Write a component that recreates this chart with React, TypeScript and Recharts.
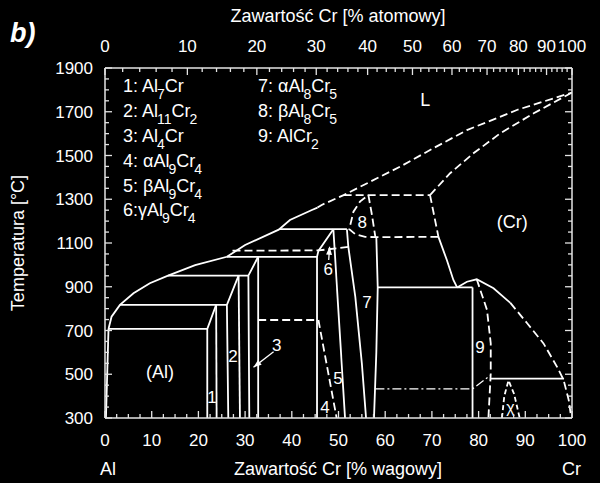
import React from 'react';
import { ComposedChart, Line, XAxis, YAxis, ReferenceDot } from 'recharts';

// every point: [wt.% Cr, temperature in °C]
const alSolvus = [[0.2, 300], [0.75, 707]];
const liquidusSolid = [[0.75, 707], [1.4, 763], [3.2, 817], [6.1, 870], [9.6, 916], [13.5, 951], [19.3, 999], [26.1, 1037], [30.0, 1091], [37.2, 1161], [39.6, 1205], [44.3, 1251], [45.5, 1262]];
const liquidusDashed = [[45.5, 1262], [46.4, 1274], [51.1, 1319], [63.2, 1449], [70.3, 1533], [77.5, 1616], [88.2, 1708], [100, 1788]];
const crSolidus = [[69.6, 1319], [73.9, 1419], [78.9, 1510], [84.6, 1601], [91.8, 1693], [100, 1788]];

const line707 = [[0.75, 707], [21.9, 707]];
const al7crLeft = [[21.9, 300], [21.9, 707], [23.8, 817]];
const al7crRight = [[23.9, 300], [23.8, 817]];
const line817 = [[3.2, 817], [26.1, 817]];
const al11cr2Left = [[26.4, 300], [26.1, 817], [28.6, 951]];
const al11cr2Right = [[28.9, 300], [28.6, 951]];
const line951 = [[13.5, 951], [30.7, 951]];
const al4crLeft = [[30.9, 300], [30.7, 951], [32.8, 1037]];
const al4crRight = [[32.8, 300], [32.8, 1037]];
const line1037 = [[26.1, 1037], [45.4, 1037]];
const al9cr4Left = [[45.4, 300], [45.4, 1037], [45.7, 1064], [48.9, 1163]];
const al9cr4Right = [[48.9, 1163], [51.4, 300]];
const line1163 = [[37.3, 1163], [51.8, 1163]];
const al8cr5Left = [[51.8, 1163], [52.1, 1083], [53.6, 854], [55.0, 550], [55.9, 300]];
const al8cr5Right = [[58.1, 1126], [58.4, 897], [58.1, 600], [57.6, 300]];
const line897 = [[58.4, 897], [78.7, 897]];
const alcr2Left = [[78.7, 300], [78.7, 897]];
const crSolvusHigh = [[71.4, 1128], [73.2, 1022], [74.6, 931], [75.4, 897]];
const alcr2Top = [[75.4, 897], [77.5, 923], [79.6, 934], [83.2, 893], [86.8, 826]];
const line480 = [[82.6, 480], [98.3, 480]];

const line1319 = [[51.1, 1319], [69.6, 1319]];
const crBoundary = [[69.6, 1319], [71.4, 1128]];
const beta85Low = [[71.4, 1128], [57.9, 1127], [55.7, 1128], [53.6, 1140], [52.3, 1163], [53.2, 1243], [54.6, 1289], [56.4, 1319]];
const beta85High = [[56.4, 1319], [57.1, 1236], [57.9, 1127]];
const line1065 = [[27.3, 1065], [45.7, 1066], [52.5, 1083]];
const line748 = [[32.8, 748], [45.4, 748]];
const alphaBeta94 = [[45.7, 748], [49.6, 300]];
const alcr2Right = [[79.6, 934], [81.8, 794], [82.6, 641], [82.6, 504], [82.1, 300]];
const crSolvusLow = [[86.8, 826], [90.4, 733], [93.9, 641], [96.8, 534], [98.2, 474], [99.3, 382], [99.8, 306]];
const chiPhase = [[85.0, 300], [85.5, 400], [86.4, 472], [87.6, 410], [88.8, 300]];
const line433 = [[57.9, 433], [78.7, 433], [82.5, 495]];

const arrow3 = [[36.1, 603], [31.8, 532]];
const arrow6 = [[47.9, 1022], [48.1, 1083]];

// tick labels
const wtLabels = [0, 10, 20, 30, 40, 50, 60, 70, 80, 90, 100];
const atLabels = [0, 10, 20, 30, 40, 50, 60, 70, 80, 90, 100];
const tempLabels = [300, 500, 700, 900, 1100, 1300, 1500, 1700, 1900];

const legend = ['1: Al_7Cr', '2: Al_11Cr_2', '3: Al_4Cr', '4: αAl_9Cr_4', '5: βAl_9Cr_4', '6:γAl_9Cr_4', '7: αAl_8Cr_5', '8: βAl_8Cr_5', '9: AlCr_2'];

const FONT = '"Liberation Sans", Arial, sans-serif';
const FRAME = '#e4e4e4';
const DASH = '8 4';

const subdivide = (major: number[], n: number) => {
  const out: number[] = [];
  for (let i = 0; i < major.length - 1; i++) {
    for (let k = 0; k < n; k++) out.push(major[i] + ((major[i + 1] - major[i]) * k) / n);
  }
  out.push(major[major.length - 1]);
  return out;
};

// atomic % -> weight % for Al-Cr
const atToWt = (a: number) => (100 * a * 52.0) / (a * 52.0 + (100 - a) * 26.98);

const wtTicks = subdivide(wtLabels, 4);
const atTicks = subdivide(atLabels, 5);
const topTicks = atTicks.map(atToWt);
const tempTicks = subdivide(tempLabels, 4);

const pts = (a: number[][]) => a.map(([x, y]) => ({ x, y }));

const series: { d: number[][]; dash?: string; w?: number }[] = [
  { d: alSolvus }, { d: liquidusSolid }, { d: liquidusDashed, dash: DASH }, { d: crSolidus, dash: DASH },
  { d: line707 }, { d: al7crLeft }, { d: al7crRight }, { d: line817 }, { d: al11cr2Left }, { d: al11cr2Right },
  { d: line951 }, { d: al4crLeft }, { d: al4crRight }, { d: line1037 }, { d: al9cr4Left }, { d: al9cr4Right },
  { d: line1163 }, { d: al8cr5Left }, { d: al8cr5Right }, { d: line897 }, { d: alcr2Left }, { d: crSolvusHigh },
  { d: alcr2Top }, { d: line480 },
  { d: line1319, dash: DASH }, { d: crBoundary, dash: DASH }, { d: beta85Low, dash: DASH }, { d: beta85High, dash: DASH },
  { d: line1065, dash: DASH }, { d: line748, dash: DASH }, { d: alphaBeta94, dash: DASH }, { d: alcr2Right, dash: DASH },
  { d: crSolvusLow, dash: DASH }, { d: chiPhase, dash: '5 3' }, { d: line433, dash: '9 3 2 3', w: 1.2 },
  { d: arrow3, w: 1.3 }, { d: arrow6, w: 1.3 },
];

const BottomTick = (p: any) => {
  const v = p.payload.value;
  const major = wtLabels.includes(v);
  return (
    <g>
      <line x1={p.x} x2={p.x} y1={p.y} y2={p.y - (major ? 7 : 4)} stroke={FRAME} strokeWidth={1.3} />
      {major && <text x={p.x} y={p.y + 28} textAnchor="middle" fill="#fff" fontSize={17} fontFamily={FONT}>{v}</text>}
    </g>
  );
};

const TopTick = (p: any) => {
  const a = atTicks[p.index];
  const major = atLabels.includes(a);
  return (
    <g>
      <line x1={p.x} x2={p.x} y1={p.y} y2={p.y + (major ? 7 : 4)} stroke={FRAME} strokeWidth={1.3} />
      {major && <text x={p.x} y={p.y - 16} textAnchor="middle" fill="#fff" fontSize={17} fontFamily={FONT}>{a}</text>}
    </g>
  );
};

const LeftTick = (p: any) => {
  const v = p.payload.value;
  const major = tempLabels.includes(v);
  return (
    <g>
      <line x1={p.x} x2={p.x + (major ? 7 : 4)} y1={p.y} y2={p.y} stroke={FRAME} strokeWidth={1.3} />
      {major && <text x={p.x - 12} y={p.y + 6} textAnchor="end" fill="#fff" fontSize={17} fontFamily={FONT}>{v}</text>}
    </g>
  );
};

const RightTick = (p: any) => {
  const major = tempLabels.includes(p.payload.value);
  return <line x1={p.x} x2={p.x - (major ? 7 : 4)} y1={p.y} y2={p.y} stroke={FRAME} strokeWidth={1.3} />;
};

const tag = (text: string, size = 17) => (p: any) => (
  <text x={p.cx} y={p.cy} textAnchor="middle" dominantBaseline="central" fill="#fff" fontSize={size} fontFamily={FONT}>{text}</text>
);

const head = (deg: number) => (p: any) => {
  const r = (deg * Math.PI) / 180;
  const ux = Math.cos(r), uy = Math.sin(r);
  const L = 8, W = 3;
  const bx = p.cx - ux * L, by = p.cy - uy * L;
  return <polygon points={`${p.cx},${p.cy} ${bx - uy * W},${by + ux * W} ${bx + uy * W},${by - ux * W}`} fill="#fff" />;
};

const Formula = ({ s, x, y }: { s: string; x: number; y: number }) => {
  const parts = s.split(/(_\d+)/).filter(Boolean);
  let sub = false;
  return (
    <text x={x} y={y} fontSize={18} fill="#fff" fontFamily={FONT}>
      {parts.map((t, i) => {
        if (t.startsWith('_')) {
          sub = true;
          return <tspan key={i} dy={7} dx={-1} fontSize={14}>{t.slice(1)}</tspan>;
        }
        const dy = sub ? -7 : 0;
        sub = false;
        return <tspan key={i} dy={dy}>{t}</tspan>;
      })}
    </text>
  );
};

const rowY = [92, 117, 141.5, 166.5, 191.5, 216];

const axisLine = { stroke: FRAME, strokeWidth: 1.5 };

export default function App() {
  return (
    <div style={{ position: 'fixed', left: 0, top: 0, width: 600, height: 483, background: '#000' }}>
      <ComposedChart width={600} height={483} margin={{ top: 67, right: 27, bottom: 64, left: 104 }}>
        <XAxis xAxisId="w" type="number" dataKey="x" domain={[0, 100]} allowDataOverflow ticks={wtTicks} interval={0}
          height={1} tickSize={0} tickMargin={0} tickLine={false} tick={<BottomTick />} axisLine={axisLine} />
        <XAxis xAxisId="a" orientation="top" type="number" dataKey="x" domain={[0, 100]} allowDataOverflow ticks={topTicks} interval={0}
          height={1} tickSize={0} tickMargin={0} tickLine={false} tick={<TopTick />} axisLine={axisLine} />
        <YAxis yAxisId="t" type="number" domain={[300, 1900]} allowDataOverflow ticks={tempTicks} interval={0}
          width={1} tickSize={0} tickMargin={0} tickLine={false} tick={<LeftTick />} axisLine={axisLine} />
        <YAxis yAxisId="r" orientation="right" type="number" domain={[300, 1900]} allowDataOverflow ticks={tempTicks} interval={0}
          width={1} tickSize={0} tickMargin={0} tickLine={false} tick={<RightTick />} axisLine={axisLine} />
        {series.map((s, i) => (
          <Line key={i} xAxisId="w" yAxisId="t" data={pts(s.d)} dataKey="y" type="linear" stroke="#fff"
            strokeWidth={s.w ?? 1.8} strokeDasharray={s.dash} dot={false} activeDot={false} isAnimationActive={false} />
        ))}
        <ReferenceDot xAxisId="w" yAxisId="t" x={31.8} y={532} shape={head(142)} />
        <ReferenceDot xAxisId="w" yAxisId="t" x={48.1} y={1083} shape={head(-86)} />
        <ReferenceDot xAxisId="w" yAxisId="t" x={11.8} y={511} shape={tag('(Al)', 18)} />
        <ReferenceDot xAxisId="w" yAxisId="t" x={87.2} y={1197} shape={tag('(Cr)', 18)} />
        <ReferenceDot xAxisId="w" yAxisId="t" x={68.6} y={1752} shape={tag('L', 18)} />
        <ReferenceDot xAxisId="w" yAxisId="t" x={22.9} y={393} shape={tag('1')} />
        <ReferenceDot xAxisId="w" yAxisId="t" x={27.4} y={580} shape={tag('2')} />
        <ReferenceDot xAxisId="w" yAxisId="t" x={36.8} y={633} shape={tag('3')} />
        <ReferenceDot xAxisId="w" yAxisId="t" x={47.1} y={350} shape={tag('4')} />
        <ReferenceDot xAxisId="w" yAxisId="t" x={49.9} y={482} shape={tag('5')} />
        <ReferenceDot xAxisId="w" yAxisId="t" x={47.8} y={980} shape={tag('6')} />
        <ReferenceDot xAxisId="w" yAxisId="t" x={56.1} y={827} shape={tag('7')} />
        <ReferenceDot xAxisId="w" yAxisId="t" x={55.1} y={1193} shape={tag('8')} />
        <ReferenceDot xAxisId="w" yAxisId="t" x={80.3} y={622} shape={tag('9')} />
        <ReferenceDot xAxisId="w" yAxisId="t" x={86.8} y={350} shape={tag('χ', 16)} />
      </ComposedChart>
      <svg width={600} height={483} style={{ position: 'absolute', left: 0, top: 0, pointerEvents: 'none' }} fill="#fff" fontFamily={FONT}>
        <text x={10} y={42} fontSize={27} fontWeight="bold" fontStyle="italic">b)</text>
        <text x={338} y={22} fontSize={18} textAnchor="middle">Zawartość Cr [% atomowy]</text>
        <text x={338} y={475} fontSize={18} textAnchor="middle">Zawartość Cr [% wagowy]</text>
        <text x={100} y={475} fontSize={18}>Al</text>
        <text x={562} y={475} fontSize={18}>Cr</text>
        <text transform="translate(24,243) rotate(-90)" textAnchor="middle" fontSize={18}>Temperatura [°C]</text>
        {legend.map((s, i) => (
          <Formula key={s} s={s} x={i < 6 ? 123 : 258} y={rowY[i % 6]} />
        ))}
      </svg>
    </div>
  );
}
